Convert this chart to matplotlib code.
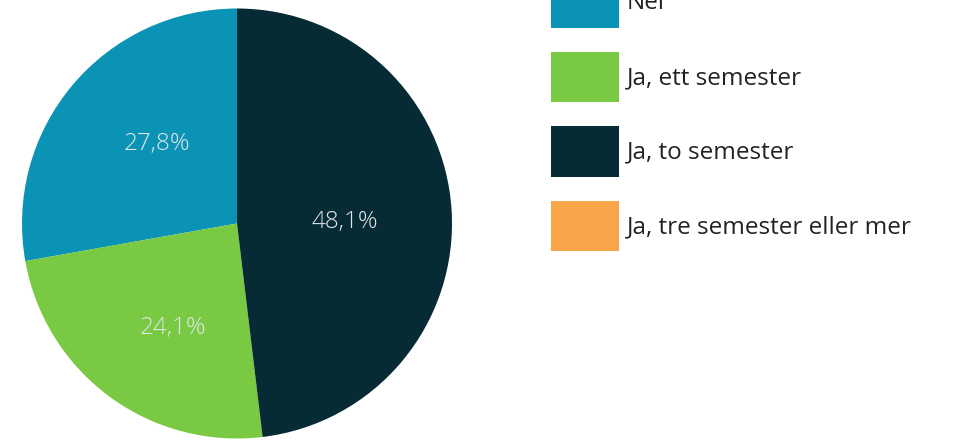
import matplotlib
matplotlib.use("Agg")
import matplotlib.pyplot as plt
from matplotlib.patches import Patch

kategorier = ["Nei", "Ja, ett semester", "Ja, to semester", "Ja, tre semester eller mer"]
andeler = [27.8, 24.1, 48.1, 0.0]
farger = ["#0a93b4", "#7ac943", "#072b34", "#f9a54a"]

# plassering av prosentetikettene (relativt til sentrum, i piksler)
etikett_pos = [(-80, 80), (-64.5, -104), (107.5, 2), (0, 0)]

plt.rcParams["font.family"] = ["Open Sans", "DejaVu Sans"]

fig = plt.figure(figsize=(9.56, 4.4), dpi=100)
ax = fig.add_axes([0, 0, 1, 1])

senter = (237, 216.5)


def etikett(pct):
    if pct < 0.5:
        return ""
    return f"{pct:.1f}%".replace(".", ",")


wedges, tekster, pcts = ax.pie(
    andeler, colors=farger, startangle=90, counterclock=True,
    center=senter, radius=215, autopct=etikett,
    wedgeprops=dict(linewidth=0),
    textprops=dict(color="#dfe6e9", fontsize=17.5, fontweight="light"),
    frame=True,
)
for t, (dx, dy) in zip(pcts, etikett_pos):
    t.set_position((senter[0] + dx, senter[1] + dy))

ax.set_xlim(0, 956)
ax.set_ylim(0, 440)
ax.set_aspect("auto")
ax.axis("off")

handles = [Patch(facecolor=c, edgecolor="none") for c in farger]
ax.legend(handles, kategorier, loc="upper left", bbox_to_anchor=(551, 463),
          bbox_transform=ax.transData, frameon=False, fontsize=17.5,
          handlelength=2.8, handleheight=2.82, labelspacing=0.99,
          handletextpad=0.33, borderpad=0, borderaxespad=0,
          labelcolor="#222222")

fig.savefig("out.png", dpi=100)
